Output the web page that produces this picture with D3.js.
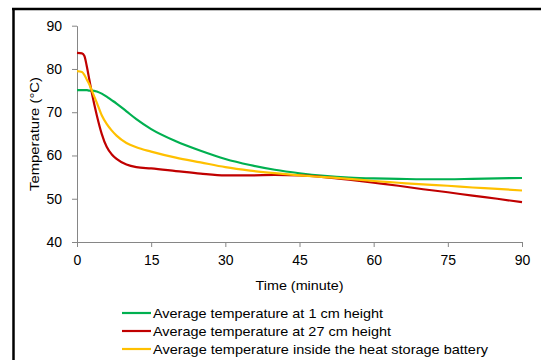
<!DOCTYPE html>
<html>
<head>
<meta charset="utf-8">
<script src="https://cdn.jsdelivr.net/npm/d3@7"></script>
<style>
  body { margin: 0; background: #fff; }
  text { font-family: "Liberation Sans", "DejaVu Sans", sans-serif; fill: #000; }
</style>
</head>
<body>
<svg id="chart" width="541" height="360"></svg>
<script>
// time in minutes
const minutes = [0, 1, 1.5, 2, 2.5, 3, 4, 5, 6, 7, 8, 10, 12, 15, 20, 25, 30, 35, 40, 45, 50, 55, 60, 65, 70, 75, 80, 85, 90];

const bottomTemp = [75.1, 75.1, 75.1, 75.1, 75.0, 75.0, 74.8, 74.3, 73.6, 72.8, 72.0, 70.2, 68.4, 66.1, 63.3, 61.1, 59.2, 57.8, 56.7, 55.9, 55.3, 54.9, 54.7, 54.6, 54.5, 54.5, 54.6, 54.7, 54.8];
const topTemp = [83.7, 83.6, 83.0, 80.5, 77.5, 74.5, 69.3, 65.0, 62.0, 60.3, 59.2, 57.9, 57.3, 57.0, 56.4, 55.8, 55.4, 55.4, 55.5, 55.4, 55.0, 54.4, 53.7, 53.0, 52.2, 51.5, 50.7, 50.0, 49.2];
const batteryTemp = [79.5, 79.3, 78.6, 77.5, 76.4, 75.0, 72.2, 69.3, 67.3, 65.8, 64.6, 62.9, 61.9, 60.9, 59.5, 58.4, 57.3, 56.5, 55.9, 55.4, 55.0, 54.6, 54.1, 53.7, 53.3, 53.0, 52.6, 52.3, 51.9];

const seriesNames = [
  "Average temperature at 1 cm height",
  "Average temperature at 27 cm height",
  "Average temperature inside the heat storage battery"
];
const seriesColors = ["#00b050", "#c00000", "#ffc000"];

const xTicks = [0, 15, 30, 45, 60, 75, 90];
const yTicks = [40, 50, 60, 70, 80, 90];

const svg = d3.select("#chart");

// frame lines (only top and left visible in the crop)
svg.append("line").attr("x1", 12).attr("x2", 541).attr("y1", 9).attr("y2", 9)
  .attr("stroke", "#000").attr("stroke-width", 2.5);
svg.append("line").attr("x1", 13.5).attr("x2", 13.5).attr("y1", 8).attr("y2", 360)
  .attr("stroke", "#000").attr("stroke-width", 2.5);

const x = d3.scaleLinear().domain([0, 90]).range([77, 522]);
const y = d3.scaleLinear().domain([40, 90]).range([242, 25.7]);

const axisColor = "#868686";

// y axis
const yAxis = svg.append("g")
  .attr("transform", "translate(77,0)")
  .call(d3.axisLeft(y).tickValues(yTicks).tickSize(5).tickPadding(10).tickSizeOuter(0));
// x axis
const xAxis = svg.append("g")
  .attr("transform", "translate(0,242)")
  .call(d3.axisBottom(x).tickValues(xTicks).tickSize(5).tickPadding(8).tickSizeOuter(0));

[xAxis, yAxis].forEach(a => {
  a.attr("font-size", 14).attr("font-family", "Liberation Sans, sans-serif");
  a.select(".domain").attr("stroke", axisColor);
  a.selectAll(".tick line").attr("stroke", axisColor);
  a.selectAll(".tick text").attr("fill", "#000");
});

// axis titles
svg.append("text")
  .attr("x", 299.5).attr("y", 290)
  .attr("text-anchor", "middle")
  .attr("font-size", 13.5)
  .attr("textLength", 88).attr("lengthAdjust", "spacingAndGlyphs")
  .text("Time (minute)");

svg.append("text")
  .attr("transform", "translate(39,134) rotate(-90)")
  .attr("text-anchor", "middle")
  .attr("font-size", 13.5)
  .attr("textLength", 114).attr("lengthAdjust", "spacingAndGlyphs")
  .text("Temperature (°C)");

// series lines
const line = values => d3.line()
  .x((d, i) => x(minutes[i]))
  .y(d => y(d))
  .curve(d3.curveMonotoneX)(values);

const allSeries = [bottomTemp, topTemp, batteryTemp];

// draw green first, then red, then yellow on top
allSeries.forEach((values, i) => {
  svg.append("path")
    .attr("d", line(values))
    .attr("fill", "none")
    .attr("stroke", seriesColors[i])
    .attr("stroke-width", 2.2)
    .attr("stroke-linejoin", "round");
});

const legendWidths = [230, 238, 335];
const legend = svg.append("g");
seriesNames.forEach((name, i) => {
  const ly = 313 + i * 18;
  legend.append("line")
    .attr("x1", 122).attr("x2", 151)
    .attr("y1", ly).attr("y2", ly)
    .attr("stroke", seriesColors[i])
    .attr("stroke-width", 2.2);
  legend.append("text")
    .attr("x", 153).attr("y", ly + 5)
    .attr("font-size", 13.5)
    .attr("textLength", legendWidths[i]).attr("lengthAdjust", "spacingAndGlyphs")
    .text(name);
});
</script>
</body>
</html>
